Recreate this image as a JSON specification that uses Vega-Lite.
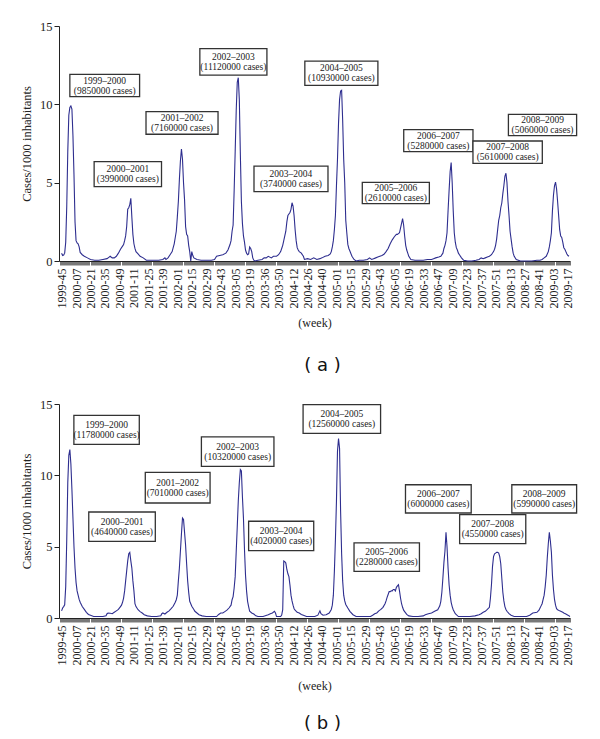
{
  "$schema": "https://vega.github.io/schema/vega-lite/v6.json",
  "padding": {"left": 20, "top": 20, "right": 5, "bottom": 5},
  "spacing": 23,
  "config": {
    "view": {"stroke": null},
    "font": "Liberation Serif",
    "axis": {"labelFont": "Liberation Serif", "titleFont": "Liberation Serif", "labelColor": "#222", "titleColor": "#222", "titleFontWeight": "normal", "grid": false, "domainColor": "#222", "tickColor": "#222"},
    "title": {"font": "DejaVu Sans", "fontSize": 18, "fontWeight": "normal", "color": "#111"}
  },
  "datasets": {
    "a": [
      {"w":0,"v":0.5},{"w":1,"v":0.35},{"w":2,"v":0.38},{"w":3,"v":0.5},{"w":4,"v":1.2},{"w":5,"v":3.5},{"w":6,"v":7.0},{"w":7,"v":9.3},{"w":8,"v":9.8},{"w":9,"v":9.9},{"w":10,"v":9.7},{"w":11,"v":8.0},{"w":12,"v":5.5},{"w":13,"v":2.5},{"w":14,"v":1.3},{"w":15,"v":1.15},{"w":16,"v":1.1},{"w":17,"v":0.9},{"w":18,"v":0.55},{"w":20,"v":0.4},{"w":22,"v":0.3},{"w":25,"v":0.2},{"w":28,"v":0.1},{"w":32,"v":0.05},{"w":36,"v":0.05},{"w":40,"v":0.1},{"w":44,"v":0.15},{"w":46,"v":0.25},{"w":47,"v":0.3},{"w":49,"v":0.2},{"w":51,"v":0.2},{"w":53,"v":0.3},{"w":55,"v":0.5},{"w":57,"v":0.75},{"w":59,"v":0.95},{"w":60,"v":1.05},{"w":61,"v":1.3},{"w":62,"v":1.6},{"w":63,"v":2.2},{"w":64,"v":3.3},{"w":65,"v":3.4},{"w":66,"v":3.6},{"w":67,"v":4.0},{"w":68,"v":2.8},{"w":69,"v":1.7},{"w":70,"v":1.1},{"w":71,"v":0.8},{"w":72,"v":0.6},{"w":74,"v":0.45},{"w":76,"v":0.3},{"w":79,"v":0.2},{"w":82,"v":0.05},{"w":86,"v":0.05},{"w":90,"v":0.05},{"w":94,"v":0.05},{"w":98,"v":0.1},{"w":100,"v":0.2},{"w":101,"v":0.1},{"w":103,"v":0.2},{"w":105,"v":0.4},{"w":107,"v":0.6},{"w":108,"v":0.85},{"w":109,"v":1.1},{"w":110,"v":1.5},{"w":111,"v":1.9},{"w":112,"v":2.8},{"w":113,"v":3.8},{"w":114,"v":5.2},{"w":115,"v":6.4},{"w":116,"v":7.15},{"w":117,"v":6.5},{"w":118,"v":5.0},{"w":119,"v":3.9},{"w":120,"v":2.2},{"w":121,"v":1.7},{"w":122,"v":1.6},{"w":123,"v":1.0},{"w":124,"v":0.6},{"w":125,"v":0.0},{"w":126,"v":0.6},{"w":127,"v":0.35},{"w":128,"v":0.2},{"w":131,"v":0.1},{"w":135,"v":0.05},{"w":140,"v":0.05},{"w":145,"v":0.05},{"w":148,"v":0.1},{"w":150,"v":0.3},{"w":153,"v":0.35},{"w":156,"v":0.4},{"w":159,"v":0.5},{"w":161,"v":0.7},{"w":163,"v":1.05},{"w":164,"v":1.3},{"w":165,"v":1.9},{"w":166,"v":2.3},{"w":167,"v":4.5},{"w":168,"v":7.0},{"w":169,"v":9.6},{"w":170,"v":11.4},{"w":171,"v":11.7},{"w":172,"v":10.3},{"w":173,"v":6.8},{"w":174,"v":3.8},{"w":175,"v":2.4},{"w":176,"v":1.6},{"w":177,"v":1.2},{"w":178,"v":0.7},{"w":179,"v":0.5},{"w":180,"v":0.4},{"w":181,"v":0.45},{"w":182,"v":0.9},{"w":183,"v":0.8},{"w":184,"v":0.6},{"w":185,"v":0.2},{"w":186,"v":0.05},{"w":187,"v":0.0},{"w":190,"v":0.05},{"w":194,"v":0.1},{"w":196,"v":0.2},{"w":198,"v":0.2},{"w":200,"v":0.3},{"w":203,"v":0.2},{"w":205,"v":0.3},{"w":208,"v":0.3},{"w":210,"v":0.4},{"w":212,"v":0.6},{"w":213,"v":0.8},{"w":214,"v":1.0},{"w":215,"v":1.3},{"w":216,"v":1.6},{"w":217,"v":1.9},{"w":218,"v":2.5},{"w":219,"v":2.9},{"w":220,"v":3.0},{"w":221,"v":3.1},{"w":222,"v":3.3},{"w":223,"v":3.72},{"w":224,"v":3.5},{"w":225,"v":2.9},{"w":226,"v":2.0},{"w":227,"v":1.3},{"w":228,"v":0.85},{"w":229,"v":0.7},{"w":230,"v":0.6},{"w":232,"v":0.5},{"w":234,"v":0.3},{"w":235,"v":0.1},{"w":238,"v":0.15},{"w":241,"v":0.1},{"w":244,"v":0.2},{"w":247,"v":0.1},{"w":250,"v":0.15},{"w":252,"v":0.2},{"w":255,"v":0.3},{"w":258,"v":0.35},{"w":260,"v":0.45},{"w":261,"v":0.6},{"w":262,"v":0.9},{"w":263,"v":1.3},{"w":264,"v":2.0},{"w":265,"v":2.9},{"w":266,"v":4.8},{"w":267,"v":6.5},{"w":268,"v":8.8},{"w":269,"v":10.3},{"w":270,"v":10.85},{"w":271,"v":10.9},{"w":272,"v":9.0},{"w":273,"v":6.5},{"w":274,"v":5.0},{"w":275,"v":2.6},{"w":276,"v":1.8},{"w":277,"v":1.06},{"w":278,"v":0.8},{"w":279,"v":0.64},{"w":281,"v":0.3},{"w":283,"v":0.1},{"w":285,"v":0.0},{"w":288,"v":0.05},{"w":292,"v":0.05},{"w":296,"v":0.1},{"w":298,"v":0.2},{"w":300,"v":0.1},{"w":302,"v":0.15},{"w":304,"v":0.2},{"w":306,"v":0.25},{"w":308,"v":0.3},{"w":310,"v":0.35},{"w":312,"v":0.43},{"w":314,"v":0.6},{"w":316,"v":0.8},{"w":318,"v":1.1},{"w":320,"v":1.35},{"w":322,"v":1.55},{"w":324,"v":1.7},{"w":325,"v":1.7},{"w":326,"v":1.75},{"w":327,"v":1.8},{"w":328,"v":2.1},{"w":329,"v":2.4},{"w":330,"v":2.7},{"w":331,"v":2.3},{"w":332,"v":1.6},{"w":333,"v":1.0},{"w":334,"v":0.7},{"w":335,"v":0.5},{"w":336,"v":0.3},{"w":338,"v":0.1},{"w":342,"v":0.05},{"w":346,"v":0.05},{"w":350,"v":0.05},{"w":354,"v":0.1},{"w":358,"v":0.1},{"w":360,"v":0.15},{"w":362,"v":0.2},{"w":365,"v":0.25},{"w":367,"v":0.3},{"w":369,"v":0.5},{"w":370,"v":0.8},{"w":371,"v":1.0},{"w":372,"v":1.3},{"w":373,"v":1.8},{"w":374,"v":3.2},{"w":375,"v":4.5},{"w":376,"v":5.7},{"w":377,"v":6.28},{"w":378,"v":5.0},{"w":379,"v":3.2},{"w":380,"v":1.8},{"w":381,"v":1.2},{"w":382,"v":0.85},{"w":383,"v":0.7},{"w":384,"v":0.5},{"w":385,"v":0.4},{"w":387,"v":0.2},{"w":389,"v":0.05},{"w":393,"v":0.0},{"w":397,"v":0.0},{"w":401,"v":0.05},{"w":404,"v":0.1},{"w":406,"v":0.2},{"w":408,"v":0.15},{"w":410,"v":0.2},{"w":412,"v":0.25},{"w":414,"v":0.3},{"w":416,"v":0.4},{"w":418,"v":0.6},{"w":419,"v":0.75},{"w":420,"v":1.0},{"w":421,"v":1.4},{"w":422,"v":2.0},{"w":423,"v":2.6},{"w":424,"v":2.9},{"w":425,"v":3.4},{"w":426,"v":3.7},{"w":427,"v":4.3},{"w":428,"v":4.8},{"w":429,"v":5.4},{"w":430,"v":5.6},{"w":431,"v":5.0},{"w":432,"v":3.8},{"w":433,"v":2.9},{"w":434,"v":1.9},{"w":435,"v":1.4},{"w":436,"v":0.9},{"w":437,"v":0.5},{"w":438,"v":0.3},{"w":440,"v":0.1},{"w":444,"v":0.0},{"w":450,"v":0.0},{"w":455,"v":0.0},{"w":460,"v":0.05},{"w":463,"v":0.05},{"w":465,"v":0.1},{"w":467,"v":0.2},{"w":469,"v":0.3},{"w":470,"v":0.45},{"w":471,"v":0.6},{"w":472,"v":0.9},{"w":473,"v":1.3},{"w":474,"v":1.8},{"w":475,"v":3.2},{"w":476,"v":4.2},{"w":477,"v":4.8},{"w":478,"v":5.04},{"w":479,"v":4.6},{"w":480,"v":3.8},{"w":481,"v":2.9},{"w":482,"v":2.0},{"w":483,"v":1.6},{"w":484,"v":1.5},{"w":485,"v":1.2},{"w":486,"v":0.85},{"w":487,"v":0.75},{"w":488,"v":0.6},{"w":489,"v":0.45},{"w":490,"v":0.35},{"w":491,"v":0.3}
    ],
    "b": [
      {"w":0,"v":0.5},{"w":1,"v":0.7},{"w":2,"v":0.8},{"w":3,"v":0.93},{"w":4,"v":2.2},{"w":5,"v":5.5},{"w":6,"v":9.5},{"w":7,"v":11.4},{"w":8,"v":11.8},{"w":9,"v":10.8},{"w":10,"v":9.0},{"w":11,"v":7.0},{"w":12,"v":5.0},{"w":13,"v":3.5},{"w":14,"v":2.5},{"w":15,"v":1.9},{"w":16,"v":1.6},{"w":17,"v":1.3},{"w":18,"v":1.1},{"w":20,"v":0.8},{"w":22,"v":0.6},{"w":24,"v":0.4},{"w":26,"v":0.25},{"w":28,"v":0.19},{"w":31,"v":0.1},{"w":35,"v":0.1},{"w":40,"v":0.1},{"w":43,"v":0.15},{"w":44,"v":0.3},{"w":45,"v":0.35},{"w":47,"v":0.33},{"w":49,"v":0.3},{"w":51,"v":0.4},{"w":53,"v":0.5},{"w":55,"v":0.6},{"w":57,"v":0.8},{"w":58,"v":0.9},{"w":59,"v":1.1},{"w":60,"v":1.4},{"w":61,"v":1.9},{"w":62,"v":2.6},{"w":63,"v":3.3},{"w":64,"v":4.0},{"w":65,"v":4.5},{"w":66,"v":4.6},{"w":67,"v":4.0},{"w":68,"v":3.5},{"w":69,"v":2.6},{"w":70,"v":1.9},{"w":71,"v":1.0},{"w":72,"v":0.8},{"w":74,"v":0.58},{"w":76,"v":0.45},{"w":78,"v":0.35},{"w":80,"v":0.23},{"w":83,"v":0.15},{"w":87,"v":0.1},{"w":92,"v":0.1},{"w":96,"v":0.15},{"w":97,"v":0.3},{"w":98,"v":0.35},{"w":100,"v":0.28},{"w":102,"v":0.4},{"w":104,"v":0.5},{"w":106,"v":0.65},{"w":108,"v":0.82},{"w":110,"v":1.1},{"w":111,"v":1.28},{"w":112,"v":1.6},{"w":113,"v":2.6},{"w":114,"v":3.5},{"w":115,"v":4.7},{"w":116,"v":5.9},{"w":117,"v":7.0},{"w":118,"v":6.9},{"w":119,"v":6.0},{"w":120,"v":5.1},{"w":121,"v":3.8},{"w":122,"v":2.6},{"w":123,"v":1.8},{"w":124,"v":1.17},{"w":125,"v":1.0},{"w":126,"v":0.82},{"w":128,"v":0.6},{"w":129,"v":0.47},{"w":131,"v":0.35},{"w":133,"v":0.23},{"w":136,"v":0.15},{"w":140,"v":0.1},{"w":145,"v":0.1},{"w":150,"v":0.1},{"w":152,"v":0.25},{"w":154,"v":0.35},{"w":156,"v":0.35},{"w":158,"v":0.45},{"w":160,"v":0.55},{"w":162,"v":0.7},{"w":164,"v":0.9},{"w":165,"v":1.28},{"w":166,"v":1.5},{"w":167,"v":2.1},{"w":168,"v":2.9},{"w":169,"v":4.67},{"w":170,"v":6.4},{"w":171,"v":8.2},{"w":172,"v":9.5},{"w":173,"v":10.4},{"w":174,"v":10.3},{"w":175,"v":8.5},{"w":176,"v":7.0},{"w":177,"v":4.8},{"w":178,"v":3.0},{"w":179,"v":1.9},{"w":180,"v":1.17},{"w":181,"v":0.8},{"w":182,"v":0.47},{"w":184,"v":0.35},{"w":186,"v":0.28},{"w":188,"v":0.15},{"w":190,"v":0.1},{"w":195,"v":0.1},{"w":200,"v":0.23},{"w":202,"v":0.3},{"w":204,"v":0.35},{"w":206,"v":0.47},{"w":207,"v":0.35},{"w":208,"v":0.1},{"w":210,"v":0.1},{"w":212,"v":0.1},{"w":213,"v":0.2},{"w":214,"v":0.58},{"w":215,"v":4.0},{"w":216,"v":3.95},{"w":217,"v":3.85},{"w":218,"v":3.4},{"w":219,"v":3.1},{"w":220,"v":2.9},{"w":221,"v":2.3},{"w":222,"v":1.6},{"w":223,"v":1.2},{"w":224,"v":0.9},{"w":225,"v":0.65},{"w":226,"v":0.55},{"w":228,"v":0.4},{"w":230,"v":0.35},{"w":232,"v":0.25},{"w":234,"v":0.19},{"w":237,"v":0.1},{"w":240,"v":0.1},{"w":245,"v":0.1},{"w":248,"v":0.2},{"w":250,"v":0.5},{"w":251,"v":0.3},{"w":253,"v":0.19},{"w":256,"v":0.23},{"w":259,"v":0.35},{"w":261,"v":0.6},{"w":262,"v":0.9},{"w":263,"v":1.6},{"w":264,"v":3.3},{"w":265,"v":5.5},{"w":266,"v":8.2},{"w":267,"v":11.7},{"w":268,"v":12.57},{"w":269,"v":11.9},{"w":270,"v":7.5},{"w":271,"v":4.5},{"w":272,"v":2.6},{"w":273,"v":1.6},{"w":274,"v":1.2},{"w":275,"v":0.95},{"w":277,"v":0.7},{"w":279,"v":0.47},{"w":282,"v":0.23},{"w":285,"v":0.1},{"w":290,"v":0.1},{"w":295,"v":0.1},{"w":299,"v":0.1},{"w":301,"v":0.19},{"w":303,"v":0.3},{"w":305,"v":0.35},{"w":307,"v":0.5},{"w":309,"v":0.6},{"w":311,"v":0.75},{"w":313,"v":1.0},{"w":314,"v":1.2},{"w":315,"v":1.45},{"w":316,"v":1.65},{"w":317,"v":1.85},{"w":318,"v":1.85},{"w":319,"v":1.9},{"w":320,"v":1.9},{"w":321,"v":2.0},{"w":322,"v":2.0},{"w":323,"v":1.9},{"w":324,"v":2.15},{"w":325,"v":2.25},{"w":326,"v":2.33},{"w":327,"v":1.9},{"w":328,"v":1.4},{"w":329,"v":1.0},{"w":330,"v":0.75},{"w":331,"v":0.55},{"w":332,"v":0.45},{"w":334,"v":0.25},{"w":336,"v":0.15},{"w":340,"v":0.1},{"w":345,"v":0.1},{"w":350,"v":0.15},{"w":352,"v":0.23},{"w":355,"v":0.3},{"w":358,"v":0.35},{"w":361,"v":0.47},{"w":364,"v":0.58},{"w":366,"v":0.85},{"w":367,"v":1.17},{"w":368,"v":1.8},{"w":369,"v":2.8},{"w":370,"v":3.9},{"w":371,"v":4.7},{"w":372,"v":6.0},{"w":373,"v":5.0},{"w":374,"v":3.5},{"w":375,"v":2.33},{"w":376,"v":1.6},{"w":377,"v":1.1},{"w":378,"v":0.8},{"w":379,"v":0.58},{"w":381,"v":0.3},{"w":384,"v":0.1},{"w":390,"v":0.1},{"w":395,"v":0.1},{"w":400,"v":0.15},{"w":404,"v":0.23},{"w":406,"v":0.3},{"w":408,"v":0.4},{"w":410,"v":0.47},{"w":412,"v":0.6},{"w":414,"v":0.75},{"w":415,"v":1.4},{"w":416,"v":2.33},{"w":417,"v":3.6},{"w":418,"v":4.3},{"w":419,"v":4.5},{"w":420,"v":4.55},{"w":421,"v":4.6},{"w":422,"v":4.6},{"w":423,"v":4.55},{"w":424,"v":4.3},{"w":425,"v":3.8},{"w":426,"v":2.8},{"w":427,"v":1.8},{"w":428,"v":1.2},{"w":429,"v":0.8},{"w":430,"v":0.6},{"w":431,"v":0.47},{"w":433,"v":0.3},{"w":435,"v":0.19},{"w":438,"v":0.1},{"w":445,"v":0.1},{"w":450,"v":0.1},{"w":453,"v":0.2},{"w":456,"v":0.35},{"w":460,"v":0.4},{"w":462,"v":0.55},{"w":463,"v":0.7},{"w":464,"v":0.85},{"w":465,"v":1.0},{"w":466,"v":1.3},{"w":467,"v":1.6},{"w":468,"v":2.2},{"w":469,"v":3.0},{"w":470,"v":4.2},{"w":471,"v":5.2},{"w":472,"v":6.0},{"w":473,"v":5.4},{"w":474,"v":4.6},{"w":475,"v":3.0},{"w":476,"v":2.0},{"w":477,"v":1.3},{"w":478,"v":0.9},{"w":479,"v":0.65},{"w":480,"v":0.58},{"w":482,"v":0.5},{"w":483,"v":0.47},{"w":485,"v":0.4},{"w":486,"v":0.35},{"w":488,"v":0.28},{"w":490,"v":0.2},{"w":492,"v":0.1}
    ],
    "na": [
      {"t":"1999–2000\n(9850000 cases)","x1":8.0,"x2":75.5,"y1":10.49,"y2":11.91,"xm":41.75,"ym":11.2},
      {"t":"2000–2001\n(3990000 cases)","x1":31.5,"x2":96.7,"y1":4.75,"y2":6.34,"xm":64.1,"ym":5.55},
      {"t":"2001–2002\n(7160000 cases)","x1":81.7,"x2":151.4,"y1":8.09,"y2":9.53,"xm":116.55,"ym":8.81},
      {"t":"2002–2003\n(11120000 cases)","x1":133.8,"x2":198.7,"y1":11.87,"y2":13.55,"xm":166.25,"ym":12.71},
      {"t":"2003–2004\n(3740000 cases)","x1":186.2,"x2":257.8,"y1":4.43,"y2":6.06,"xm":222.0,"ym":5.245},
      {"t":"2004–2005\n(10930000 cases)","x1":235.4,"x2":306.1,"y1":11.21,"y2":12.76,"xm":270.75,"ym":11.985},
      {"t":"2005–2006\n(2610000 cases)","x1":291.0,"x2":355.9,"y1":3.66,"y2":5.02,"xm":323.45,"ym":4.34},
      {"t":"2006–2007\n(5280000 cases)","x1":331.1,"x2":398.1,"y1":6.98,"y2":8.39,"xm":364.6,"ym":7.685},
      {"t":"2007–2008\n(5610000 cases)","x1":398.1,"x2":465.2,"y1":6.23,"y2":7.66,"xm":431.65,"ym":6.945},
      {"t":"2008–2009\n(5060000 cases)","x1":432.4,"x2":498.4,"y1":8.0,"y2":9.36,"xm":465.4,"ym":8.68}
    ],
    "nb": [
      {"t":"1999–2000\n(11780000 cases)","x1":11.9,"x2":75.2,"y1":12.17,"y2":14.2,"xm":43.55,"ym":13.185},
      {"t":"2000–2001\n(4640000 cases)","x1":26.3,"x2":90.7,"y1":5.37,"y2":7.43,"xm":58.5,"ym":6.4},
      {"t":"2001–2002\n(7010000 cases)","x1":81.0,"x2":143.7,"y1":8.06,"y2":10.21,"xm":112.35,"ym":9.135},
      {"t":"2002–2003\n(10320000 cases)","x1":135.3,"x2":205.5,"y1":10.63,"y2":12.7,"xm":170.4,"ym":11.665},
      {"t":"2003–2004\n(4020000 cases)","x1":181.0,"x2":244.0,"y1":4.72,"y2":6.78,"xm":212.5,"ym":5.75},
      {"t":"2004–2005\n(12560000 cases)","x1":233.7,"x2":308.7,"y1":12.94,"y2":14.95,"xm":271.2,"ym":13.945},
      {"t":"2005–2006\n(2280000 cases)","x1":283.0,"x2":346.3,"y1":3.27,"y2":5.26,"xm":314.65,"ym":4.265},
      {"t":"2006–2007\n(6000000 cases)","x1":332.8,"x2":396.4,"y1":7.36,"y2":9.34,"xm":364.6,"ym":8.35},
      {"t":"2007–2008\n(4550000 cases)","x1":385.2,"x2":449.2,"y1":5.21,"y2":7.24,"xm":417.2,"ym":6.225},
      {"t":"2008–2009\n(5990000 cases)","x1":435.7,"x2":498.4,"y1":7.36,"y2":9.34,"xm":467.05,"ym":8.35}
    ]
  },
  "vconcat": [
    {
      "width": 511,
      "height": 235,
      "title": {"text": "( a )", "orient": "bottom", "offset": 28, "dx": 8, "frame": "group"},
      "layer": [
        {
          "data": {"name": "a"},
          "mark": {"type": "line", "color": "#2e2e8f", "strokeWidth": 1.1, "clip": false},
          "encoding": {
            "x": {"field": "w", "type": "quantitative", "scale": {"domain": [-2.5, 492], "nice": false, "zero": false},
              "axis": {"title": "(week)", "titleFontSize": 12, "titlePadding": 10, "tickCount": 495, "tickSize": 4, "tickWidth": 0.8, "tickColor": "#555", "labelAngle": -90, "labelOverlap": false, "labelFlush": false, "labelBound": false, "labelFontSize": 12, "labelPadding": 3,
                "labelExpr": "datum.value % 14 == 0 && datum.value >= 0 && datum.value <= 490 ? ['1999-45','2000-07','2000-21','2000-35','2000-49','2001-11','2001-25','2001-39','2002-01','2002-15','2002-29','2002-43','2003-05','2003-19','2003-36','2003-50','2004-12','2004-26','2004-40','2005-01','2005-15','2005-29','2005-43','2006-05','2006-19','2006-33','2006-47','2007-09','2007-23','2007-37','2007-51','2008-13','2008-27','2008-41','2009-03','2009-17'][floor(datum.value / 14)] : ''"}},
            "y": {"field": "v", "type": "quantitative", "scale": {"domain": [0, 15], "nice": false},
              "axis": {"title": "Cases/1000 inhabitants", "titleFontSize": 12.5, "titlePadding": 6, "values": [0, 5, 10, 15], "tickSize": 5, "labelFontSize": 12.5, "labelPadding": 2}}
          }
        },
        {
          "data": {"name": "na"},
          "mark": {"type": "rect", "fill": "white", "stroke": "#333", "strokeWidth": 1.3, "clip": false},
          "encoding": {
            "x": {"field": "x1", "type": "quantitative"},
            "x2": {"field": "x2"},
            "y": {"field": "y1", "type": "quantitative"},
            "y2": {"field": "y2"}
          }
        },
        {
          "data": {"name": "na"},
          "mark": {"type": "text", "font": "Liberation Serif", "fontSize": 9.5, "lineHeight": 10, "lineBreak": "\n", "align": "center", "baseline": "middle", "dy": -5, "color": "#222"},
          "encoding": {
            "x": {"field": "xm", "type": "quantitative"},
            "y": {"field": "ym", "type": "quantitative"},
            "text": {"field": "t"}
          }
        }
      ]
    },
    {
      "width": 511,
      "height": 214,
      "title": {"text": "( b )", "orient": "bottom", "offset": 23, "dx": 8, "frame": "group"},
      "layer": [
        {
          "data": {"name": "b"},
          "mark": {"type": "line", "color": "#2e2e8f", "strokeWidth": 1.1, "clip": false},
          "encoding": {
            "x": {"field": "w", "type": "quantitative", "scale": {"domain": [-2.5, 492], "nice": false, "zero": false},
              "axis": {"title": "(week)", "titleFontSize": 12, "titlePadding": 16, "tickCount": 495, "tickSize": 4, "tickWidth": 0.8, "tickColor": "#555", "labelAngle": -90, "labelOverlap": false, "labelFlush": false, "labelBound": false, "labelFontSize": 12, "labelPadding": 3,
                "labelExpr": "datum.value % 14 == 0 && datum.value >= 0 && datum.value <= 490 ? ['1999-45','2000-07','2000-21','2000-35','2000-49','2001-11','2001-25','2001-39','2002-01','2002-15','2002-29','2002-43','2003-05','2003-19','2003-36','2003-50','2004-12','2004-26','2004-40','2005-01','2005-15','2005-29','2005-43','2006-05','2006-19','2006-33','2006-47','2007-09','2007-23','2007-37','2007-51','2008-13','2008-27','2008-41','2009-03','2009-17'][floor(datum.value / 14)] : ''"}},
            "y": {"field": "v", "type": "quantitative", "scale": {"domain": [0, 15], "nice": false},
              "axis": {"title": "Cases/1000 inhabitants", "titleFontSize": 12.5, "titlePadding": 6, "values": [0, 5, 10, 15], "tickSize": 5, "labelFontSize": 12.5, "labelPadding": 2}}
          }
        },
        {
          "data": {"name": "nb"},
          "mark": {"type": "rect", "fill": "white", "stroke": "#333", "strokeWidth": 1.3, "clip": false},
          "encoding": {
            "x": {"field": "x1", "type": "quantitative"},
            "x2": {"field": "x2"},
            "y": {"field": "y1", "type": "quantitative"},
            "y2": {"field": "y2"}
          }
        },
        {
          "data": {"name": "nb"},
          "mark": {"type": "text", "font": "Liberation Serif", "fontSize": 9.5, "lineHeight": 10, "lineBreak": "\n", "align": "center", "baseline": "middle", "dy": -5, "color": "#222"},
          "encoding": {
            "x": {"field": "xm", "type": "quantitative"},
            "y": {"field": "ym", "type": "quantitative"},
            "text": {"field": "t"}
          }
        }
      ]
    }
  ]
}
